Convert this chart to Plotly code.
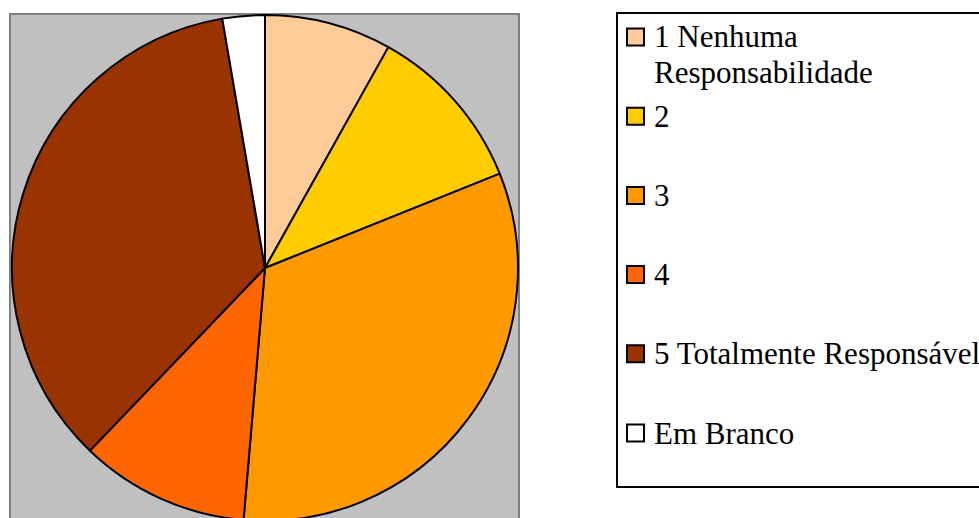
import plotly.graph_objects as go

# ---- data ----
labels = ["1 Nenhuma<br>Responsabilidade", "2", "3", "4", "5 Totalmente Responsável", "Em Branco"]
values = [3, 4, 12, 4, 13, 1]
colors = ["#FFCC99", "#FFCC00", "#FF9900", "#FF6600", "#993300", "#FFFFFF"]

W, H = 979, 526
FONT = "Liberation Serif"


def px_x(x):
    return x / W


def px_y(y):
    return 1 - y / H


fig = go.Figure()
fig.add_trace(go.Pie(
    labels=[l.replace("<br>", " ") for l in labels],
    values=values,
    marker=dict(colors=colors, line=dict(color="black", width=2)),
    sort=False,
    direction="clockwise",
    rotation=0,
    textinfo="none",
    hoverinfo="label+value+percent",
    showlegend=False,
    domain=dict(x=[px_x(12), px_x(518)], y=[px_y(521), px_y(15)]),
))

shapes = []
# gray plot area
shapes.append(dict(type="rect", xref="paper", yref="paper",
                   x0=px_x(10), x1=px_x(519), y0=px_y(560), y1=px_y(14),
                   fillcolor="#C0C0C0", line=dict(color="#808080", width=2),
                   layer="below"))
# legend box
shapes.append(dict(type="rect", xref="paper", yref="paper",
                   x0=px_x(617), x1=px_x(1000), y0=px_y(487), y1=px_y(13),
                   fillcolor="white", line=dict(color="black", width=2),
                   layer="below"))

annotations = []
for i, (lab, col) in enumerate(zip(labels, colors)):
    yc = 37 + i * 79.2
    shapes.append(dict(type="rect", xref="paper", yref="paper",
                       x0=px_x(627), x1=px_x(644), y0=px_y(yc + 8.5), y1=px_y(yc - 8.5),
                       fillcolor=col, line=dict(color="black", width=2)))
    for j, line in enumerate(lab.split("<br>")):
        annotations.append(dict(xref="paper", yref="paper", x=px_x(652), y=px_y(yc + j * 35),
                                xanchor="left", yanchor="middle", text=line, showarrow=False,
                                font=dict(family=FONT, size=31, color="black")))

fig.update_layout(
    width=W, height=H,
    margin=dict(l=0, r=0, t=0, b=0),
    paper_bgcolor="white",
    shapes=shapes,
    annotations=annotations,
    font=dict(family=FONT),
)

fig.write_html(
    "out.html",
    config={"displayModeBar": False},
    post_script="document.body.style.margin='0';document.body.style.overflow='hidden';",
)
